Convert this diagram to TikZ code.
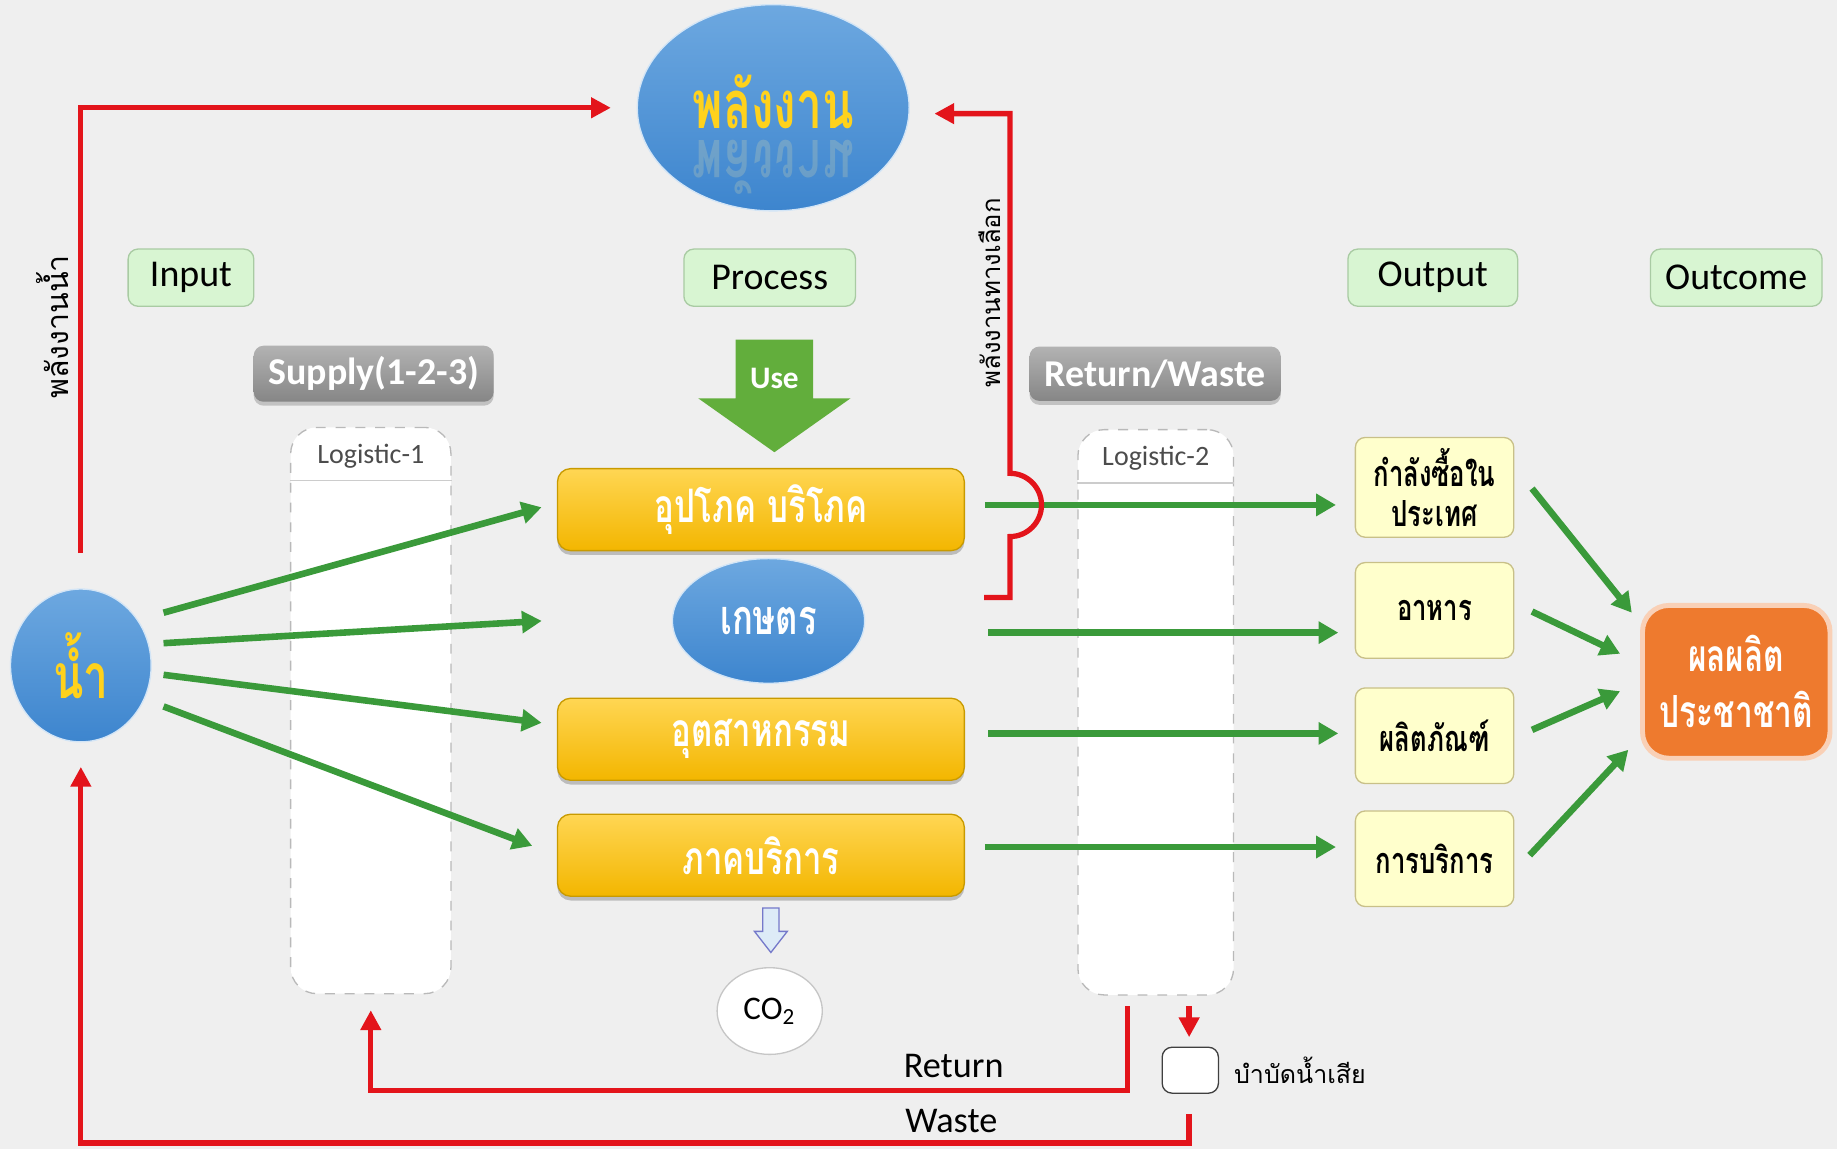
\documentclass[tikz,border=0pt]{standalone}
\usepackage{fontspec}
\usepackage{graphicx}
\setmainfont{Carlito}
\newfontfamily\thaifont[Script=Thai]{Loma}
\usetikzlibrary{positioning,arrows.meta,shapes.geometric,shadows,calc}

\definecolor{paper}{HTML}{EFEFEF}
\definecolor{flowred}{HTML}{E3141B}
\definecolor{flowgreen}{HTML}{3A9A3A}
\definecolor{tagfill}{HTML}{D8F5D2}
\definecolor{tagline}{HTML}{A9CBA3}
\definecolor{goldtop}{HTML}{FFD653}
\definecolor{goldbot}{HTML}{F3B600}
\definecolor{goldline}{HTML}{C89A00}
\definecolor{bluetop}{HTML}{6DA8E0}
\definecolor{bluebot}{HTML}{3D85CE}
\definecolor{sunyellow}{HTML}{FFD21C}
\definecolor{creamfill}{HTML}{FFFFCC}
\definecolor{creamline}{HTML}{C8C088}
\definecolor{outorange}{HTML}{EE7A2E}
\definecolor{usegreen}{HTML}{62AE3C}
\definecolor{co2arrow}{HTML}{DDEBF7}

\newcommand{\thaiT}[1]{{\thaifont\scalebox{1}[1.4]{#1}}}
\newcommand{\thaiTall}[1]{{\thaifont\scalebox{1}[1.45]{#1}}}

\begin{document}
\begin{tikzpicture}[
  x=0.0125cm, y=-0.0125cm,
  tag/.style={rectangle, draw=tagline, fill=tagfill, rounded corners=3pt,
              minimum height=0.61cm, font=\fontsize{11.5}{13}\selectfont},
  graytag/.style={rectangle, rounded corners=3pt, top color=gray!60, bottom color=gray!95,
              text=white, minimum height=0.58cm, font=\fontsize{11.5}{13}\selectfont\bfseries,
              drop shadow={shadow xshift=0pt, shadow yshift=-1.2pt, opacity=.4}},
  logcol/.style={rectangle, draw=gray!55, dashed, fill=white, rounded corners=8pt},
  sector/.style={rectangle, rounded corners=4pt, draw=goldline, top color=goldtop,
              bottom color=goldbot, minimum width=4.34cm, minimum height=0.875cm,
              text=white, font=\fontsize{10}{12}\selectfont\bfseries,
              drop shadow={shadow xshift=0pt, shadow yshift=-1.3pt, opacity=.45}},
  blob/.style={ellipse, draw=white!70!bluetop, top color=bluetop, bottom color=bluebot,
              inner sep=1pt},
  product/.style={rectangle, draw=creamline, fill=creamfill, rounded corners=3pt,
              minimum width=1.69cm, minimum height=1.02cm, align=center,
              font=\fontsize{7.8}{12}\selectfont\bfseries},
  greenarrow/.style={draw=flowgreen, line width=2pt, -{Triangle[length=6pt,width=6.5pt]}},
  redarrow/.style={draw=flowred, line width=1.6pt, -{Triangle[length=6pt,width=6pt]}}
]

% background
\fill[paper] (0,0) rectangle (1568,981);
\useasboundingbox (0,0) rectangle (1568,981);

% energy and water
\node[blob, minimum width=2.9cm, minimum height=2.2cm] (energy) at (660,92) {};
\node[text=sunyellow, font=\fontsize{14}{16}\selectfont\bfseries] (energytxt) at (660,87) {\thaiTall{พลังงาน}};
\node[text=sunyellow!40!white, opacity=.2, yscale=-1, transform shape,
      font=\fontsize{14}{16}\selectfont\bfseries] (energymirror) at (660,143) {\thaiTall{พลังงาน}};
\node[blob, minimum width=1.5cm, minimum height=1.63cm, text=sunyellow,
      font=\fontsize{13.5}{16}\selectfont\bfseries] (water) at (69,568) {\thaiT{น้ำ}};

% stage labels
\node[tag, minimum width=1.34cm] (input) at (163,237) {Input};
\node[tag, minimum width=1.83cm] (process) at (657,237) {Process};
\node[tag, minimum width=1.81cm] (output) at (1223,237) {Output};
\node[tag, minimum width=1.83cm] (outcome) at (1482,237) {Outcome};

\node[graytag, minimum width=2.56cm] (supply) at (319,319) {Supply(1-2-3)};
\node[graytag, minimum width=2.68cm] (retwaste) at (986,319) {Return/Waste};

% logistic columns
\node[logcol, minimum width=1.71cm, minimum height=6.04cm] (log1) at (316.5,606.5) {};
\node[font=\fontsize{8.5}{10}\selectfont, text=black!70] (log1txt) at (316.5,389) {Logistic-1};
\draw[gray!40] ([yshift=-0.575cm]log1.north west) -- ([yshift=-0.575cm]log1.north east);

\node[logcol, minimum width=1.66cm, minimum height=6.03cm] (log2) at (986.5,608) {};
\node[font=\fontsize{8.5}{10}\selectfont, text=black!70] (log2txt) at (986.5,391) {Logistic-2};
\draw[gray!40] ([yshift=-0.575cm]log2.north west) -- ([yshift=-0.575cm]log2.north east);

% use arrow
\fill[usegreen] (628,290) -- (694,290) -- (694,340) -- (726,340) -- (661,386)
  -- (596,340) -- (628,340) -- cycle;
\node[text=white, font=\fontsize{9.5}{11}\selectfont\bfseries] (usetxt) at (661,323) {Use};

% sectors
\node[sector] (consume) at (649.5,435) {\thaiT{อุปโภค บริโภค}};
\node[blob, minimum width=2.05cm, minimum height=1.33cm, text=white,
      font=\fontsize{10.5}{12}\selectfont\bfseries] (agri) at (656,530) {\thaiT{เกษตร}};
\node[sector] (industry) at (649.5,631) {\thaiT{อุตสาหกรรม}};
\node[sector] (service) at (649.5,730) {\thaiT{ภาคบริการ}};

% co2
\draw[fill=co2arrow, draw=co2arrow!50!blue!60!gray] (651,775) -- (665,775) -- (665,795)
  -- (672,795) -- (658,813) -- (644,795) -- (651,795) -- cycle;
\node[ellipse, draw=gray!45, fill=white, minimum width=1.1cm, minimum height=0.925cm,
      font=\fontsize{10}{12}\selectfont] (co2) at (657,863) {CO\textsubscript{2}};

% outputs
\node[product] (buy) at (1224.5,416) {\thaiT{กำลังซื้อใน}\\\thaiT{ประเทศ}};
\node[product] (food) at (1224.5,521) {\thaiT{อาหาร}};
\node[product] (goods) at (1224.5,628) {\thaiT{ผลิตภัณฑ์}};
\node[product] (services) at (1224.5,733) {\thaiT{การบริการ}};

% outcome
\node[rectangle, rounded corners=8pt, fill=outorange, draw=outorange!35!white, line width=1.5pt,
      minimum width=2.0cm, minimum height=1.63cm, text=white, align=center,
      font=\fontsize{9.6}{17}\selectfont\bfseries] (gnp) at (1482,582)
      {\thaiT{ผลผลิต}\\\thaiT{ประชาชาติ}};

% treatment
\node[rectangle, rounded corners=3pt, draw=black!75, fill=white, minimum width=0.6cm,
      minimum height=0.49cm] (treat) at (1016,913.5) {};
\node[right=1pt of treat, font=\fontsize{7.6}{9}\selectfont\thaifont] (treatlbl) {บำบัดน้ำเสีย};

% water to sectors
\draw[greenarrow] ($(water.east)+(10,-45)$) -- ($(consume.west)+(-13,-2)$);
\draw[greenarrow] ($(water.east)+(10,-19)$) -- ($(agri.west)+(-111,0)$);
\draw[greenarrow] ($(water.east)+(10,8)$) -- ($(industry.west)+(-13,-14)$);
\draw[greenarrow] ($(water.east)+(10,35)$) -- ($(service.west)+(-21,-8)$);

% sectors to outputs
\draw[greenarrow] ($(consume.east)+(17,-4)$) -- ($(buy.west)+(-16,15)$);
\draw[greenarrow] ($(agri.east)+(105,10)$) -- ($(food.west)+(-14,19)$);
\draw[greenarrow] ($(industry.east)+(20,-5)$) -- ($(goods.west)+(-14,-2)$);
\draw[greenarrow] ($(service.east)+(17,-7)$) -- ($(services.west)+(-16,-10)$);

% outputs to outcome
\draw[greenarrow] ($(buy.east)+(15,1)$) -- ($(gnp.west)+(-7,-59)$);
\draw[greenarrow] ($(food.east)+(15,1)$) -- ($(gnp.west)+(-17,-24)$);
\draw[greenarrow] ($(goods.east)+(15,-5)$) -- ($(gnp.west)+(-17,8)$);
\draw[greenarrow] ($(services.east)+(13,-3)$) -- ($(gnp.west)+(-10,58)$);

% hydro energy
\draw[redarrow] ($(water.north)+(0,-30)$) |- ($(energy.west)+(-22,0)$);
\node[rotate=90, font=\fontsize{9.2}{11}\selectfont\thaifont] (hydrolbl) at (45,279) {พลังงานน้ำ};

% alternative energy
\coordinate (altstart) at (840,510);
\draw[redarrow] (altstart) -- (862,510) -- (862,458)
  arc[start angle=90, end angle=-90, radius=27] -- (862,97) -- ($(energy.east)+(21,5)$);
\node[rotate=90, font=\fontsize{7.8}{10}\selectfont\thaifont] (altlbl) at (845,250) {พลังงานทางเลือก};

% return and waste
\draw[redarrow, shorten >=0.17cm] ($(log2.south)+(-24,9)$) -- ++(0,72) -| (log1.south);
\node[font=\fontsize{11}{13}\selectfont] (returnlbl) at (814,910) {Return};
\draw[redarrow] ($(log2.south)+(28.5,9)$) -- ($(treat.north)+(-1,-8)$);
\draw[redarrow, shorten >=0.26cm] ($(treat.south)+(-1,17)$) -- ++(0,25) -| (water.south);
\node[font=\fontsize{11}{13}\selectfont] (wastelbl) at (812,957) {Waste};

\end{tikzpicture}
\end{document}
